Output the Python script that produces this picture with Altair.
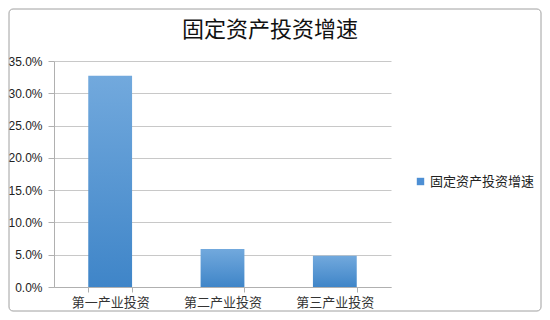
import altair as alt
import pandas as pd

categories = ["第一产业投资", "第二产业投资", "第三产业投资"]
values = [0.327, 0.059, 0.0485]
series_name = "固定资产投资增速"
chart_title = "固定资产投资增速"
y_ticks = [0, 0.05, 0.10, 0.15, 0.20, 0.25, 0.30, 0.35]

df = pd.DataFrame({"cat": categories, "val": values, "series": [series_name] * 3})

CJK = "Noto Sans CJK SC"

grad = alt.Gradient(
    gradient="linear", x1=0, y1=0, x2=0, y2=1,
    stops=[alt.GradientStop(color="#72a9dd", offset=0),
           alt.GradientStop(color="#3f85c8", offset=1)],
)

x_enc = alt.X("cat:N", sort=categories, title=None,
              scale=alt.Scale(paddingInner=0.61, paddingOuter=0.305),
              axis=alt.Axis(labelAngle=0, labelFont=CJK, labelFontSize=13, labelColor="#333",
                            domainColor="#b0b0b0", tickColor="#b0b0b0", tickSize=5,
                            tickBand="extent", labelPadding=4, grid=False,
                            labelOverlap=False))
y_enc = alt.Y("val:Q", title=None,
              scale=alt.Scale(domain=[0, 0.35], nice=False),
              axis=alt.Axis(values=y_ticks, format=".1%", labelFont="Liberation Sans",
                            labelFontSize=12, labelColor="#222", domainColor="#b0b0b0",
                            tickColor="#b0b0b0", tickSize=6, gridColor="#c8c8c8",
                            labelPadding=6, labelOverlap=False))

bars = alt.Chart(df).mark_bar(color=grad).encode(x=x_enc, y=y_enc)

legend_layer = alt.Chart(df).mark_square(opacity=0, size=1).encode(
    x=x_enc,
    y=y_enc,
    color=alt.Color("series:N", scale=alt.Scale(range=["#4d8fd4"]),
                    legend=alt.Legend(title=None, orient="none", legendX=360, legendY=114,
                                      symbolType="square", symbolSize=55, symbolOpacity=1,
                                      labelFont=CJK, labelFontSize=13, labelColor="#222",
                                      labelOffset=3)),
)

frame = alt.Chart(pd.DataFrame({"a": [0]})).mark_rect(
    fill="transparent", stroke="#a0a0a0", strokeWidth=1, cornerRadius=4
).encode(x=alt.value(-45), x2=alt.value(487), y=alt.value(-52), y2=alt.value(250))

title_layer = alt.Chart(pd.DataFrame({"t": [chart_title]})).mark_text(
    font=CJK, fontSize=22, color="#111", align="center", baseline="middle"
).encode(text="t:N", x=alt.value(216), y=alt.value(-31))

chart = alt.layer(frame, bars, legend_layer, title_layer).properties(
    width=337, height=226,
    autosize="none",
    padding={"left": 46, "top": 53, "right": 151, "bottom": 25},
).configure_view(stroke=None)

chart.save("out.html", embed_options={"renderer": "svg", "actions": False})
